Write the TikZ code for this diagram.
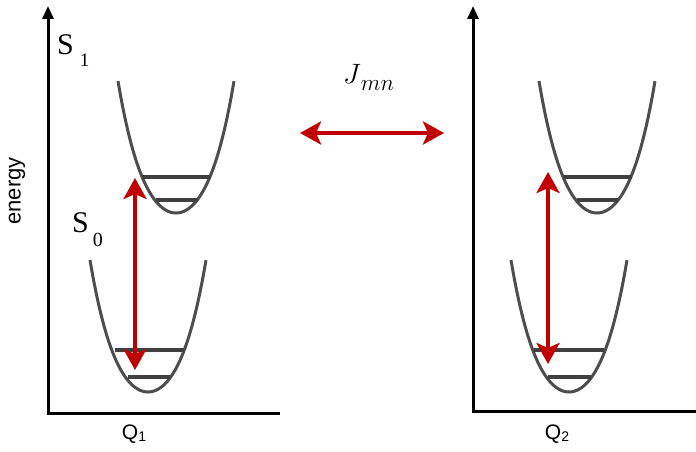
\documentclass[tikz,border=0pt]{standalone}
\usepackage{fix-cm}
\usepackage{fontspec}
\setmainfont{Liberation Serif}
\setsansfont{Liberation Sans}
\usepackage{amsmath}
\usetikzlibrary{arrows.meta}
\definecolor{wellgray}{RGB}{77,77,77}
\definecolor{levelgray}{RGB}{64,64,64}
\definecolor{transred}{RGB}{192,0,0}
% potential well: #1 vertex x, #2 vertex y
\newcommand{\potwell}[2]{%
  \draw[well] plot[domain=-1:1, samples=61, smooth]
    ({#1+58*\x},{#2-132*(0.695*\x*\x+0.305*\x*\x*\x*\x)});}

\begin{document}
\begin{tikzpicture}[x=1pt, y=-1pt,
  well/.style={wellgray, line width=3pt},
  level/.style={levelgray, line width=4pt},
  axis/.style={black, line width=3pt, -{Triangle[width=11pt,length=13pt]}},
  transfer/.style={transred, line width=4pt,
    {Stealth[length=21pt,width=23pt,inset=5pt]}-{Stealth[length=21pt,width=23pt,inset=5pt]}},
  slabel/.style={inner sep=0pt, anchor=base west, font=\fontsize{30}{30}\selectfont},
  qlabel/.style={inner sep=0pt, font=\sffamily\fontsize{21}{21}\selectfont}]
  \useasboundingbox (0,0) rectangle (696,452);
  % 1. Molekyl 1
  \coordinate (o1) at (48,413);
  \coordinate (y1) at (48,6);
  \coordinate (x1) at (280,413);
  \draw[axis] ([yshift=1.5pt]o1) -- (y1);
  \draw[line width=3pt] ([xshift=-1.5pt]o1) -- (x1);
  \potwell{176}{213}
  \potwell{148}{392}
  \draw[level] (142,177) -- (210,177);
  \draw[level] (156,200) -- (198,200);
  \draw[level] (115,350) -- (184,350);
  \draw[level] (128,377) -- (170,377);
  \coordinate (up1) at (135,178);
  \coordinate (lo1) at (135,370);
  \draw[transfer] (lo1) -- (up1);
  \node[slabel] (s1lbl) at (57,55) {S\hspace{6pt}\raisebox{-12pt}{\fontsize{19}{19}\selectfont 1}};
  \node[slabel] (s0lbl) at (72,232) {S\hspace{4pt}\raisebox{-14pt}{\fontsize{20}{20}\selectfont 0}};
  \node[qlabel] (qone) at (134,434) {Q\raisebox{-2pt}{\fontsize{14}{14}\selectfont 1}};
  \node[rotate=90, inner sep=0pt, font=\sffamily\fontsize{22}{22}\selectfont] (energy) at (17,191) {energy};
  % 2. Molekyl 2
  \coordinate (o2) at (473,411);
  \coordinate (y2) at (473,6);
  \coordinate (x2) at (696,411);
  \draw[axis] ([yshift=1.5pt]o2) -- (y2);
  \draw[line width=3pt] ([xshift=-1.5pt]o2) -- (x2);
  \potwell{597}{213}
  \potwell{569}{392}
  \draw[level] (563,177) -- (632,177);
  \draw[level] (577,200) -- (618,200);
  \draw[level] (534,350) -- (604,350);
  \draw[level] (548,377) -- (591,377);
  \coordinate (up2) at (548,172);
  \coordinate (lo2) at (548,364);
  \draw[transfer] (lo2) -- (up2);
  \node[qlabel] (qtwo) at (557,434) {Q\raisebox{-2pt}{\fontsize{14}{14}\selectfont 2}};
  % 3. Kopplung
  \coordinate (jl) at (300,133);
  \coordinate (jr) at (444,133);
  \draw[transfer] (jl) -- (jr);
  \node[inner sep=0pt, anchor=base west, font=\fontsize{28}{28}\selectfont] (jlbl) at (343,84)
    {$J$\raisebox{-7pt}{\fontsize{23}{23}\selectfont$mn$}};
\end{tikzpicture}
\end{document}
